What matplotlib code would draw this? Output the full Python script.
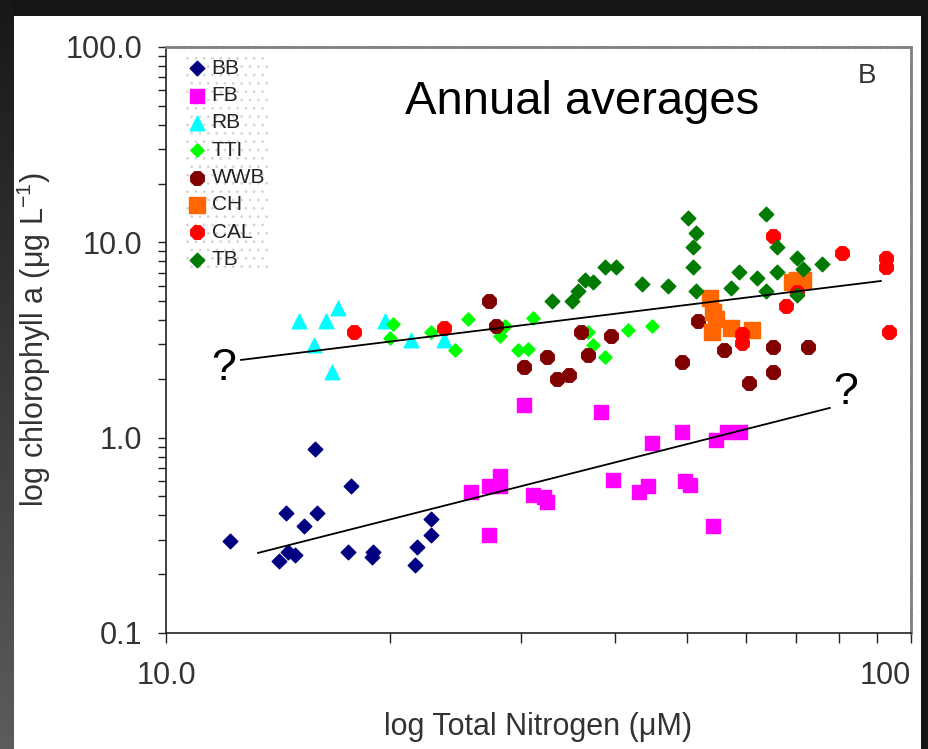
import numpy as np
import matplotlib
matplotlib.use("Agg")
import matplotlib.pyplot as plt
from matplotlib.patches import Rectangle

plt.rcParams['font.family'] = ['Liberation Sans', 'DejaVu Sans']
plt.rcParams['mathtext.fontset'] = 'custom'
plt.rcParams['mathtext.rm'] = 'Liberation Sans'
plt.rcParams['mathtext.default'] = 'regular'
plt.rcParams['hatch.linewidth'] = 0.8

# annual averages per site: total nitrogen (uM), chlorophyll a (ug/L)
bb_tn = [15.85, 17.7, 14.5, 15.95, 15.3, 12.2, 14.6, 14.9, 14.2, 17.55, 18.95, 18.9, 22.7, 22.7, 21.7, 21.6]
bb_chl = [0.876, 0.566, 0.412, 0.412, 0.353, 0.296, 0.26, 0.251, 0.234, 0.26, 0.26, 0.245, 0.383, 0.319, 0.276, 0.223]

fb_tn = [30.2, 38.4, 44.9, 49.2, 54.8, 56.6, 58.9, 28.1, 27.1, 25.7, 28.1, 31.1, 32.2, 32.5, 39.8, 43.2, 44.4, 49.7, 50.5, 27.1, 54.3]
fb_chl = [1.47, 1.35, 0.94, 1.07, 0.97, 1.07, 1.07, 0.64, 0.566, 0.53, 0.566, 0.509, 0.497, 0.471, 0.604, 0.53, 0.566, 0.60, 0.575, 0.319, 0.353]

rb_tn = [15.1, 16.4, 17.0, 15.8, 16.7, 19.7, 21.3, 23.6]
rb_chl = [3.94, 3.94, 4.61, 2.98, 2.16, 3.94, 3.15, 3.15]

tti_tn = [20.2, 20.0, 22.7, 24.4, 25.4, 28.1, 28.5, 31.1, 29.7, 30.6, 36.8, 37.4, 38.8, 41.7, 44.9]
tti_chl = [3.82, 3.24, 3.48, 2.80, 4.03, 3.30, 3.71, 4.10, 2.80, 2.85, 3.48, 2.98, 2.59, 3.56, 3.71]

wwb_tn = [27.1, 27.7, 36.1, 39.6, 36.8, 32.5, 30.2, 33.5, 34.8, 51.8, 49.2, 56.1, 60.6, 65.2, 65.2, 72.7]
wwb_chl = [5.01, 3.71, 3.48, 3.30, 2.65, 2.59, 2.30, 1.99, 2.09, 3.94, 2.44, 2.80, 1.91, 2.91, 2.16, 2.91]

ch_tn = [53.8, 54.3, 54.8, 54.1, 57.4, 61.1, 70.4, 69.2, 71.6]
ch_chl = [5.19, 4.40, 4.03, 3.48, 3.65, 3.56, 6.38, 6.23, 6.38]

cal_tn = [17.9, 23.6, 59.4, 59.4, 65.2, 68.0, 70.4, 80.8, 92.6, 92.6, 93.4]
cal_chl = [3.48, 3.65, 3.40, 3.07, 10.72, 4.72, 5.57, 8.83, 8.32, 7.44, 3.48]

tb_tn = [33.0, 35.1, 35.7, 36.5, 37.4, 38.8, 40.2, 43.5, 47.2, 50.2, 51.5, 50.9, 50.9, 51.5,
         63.8, 66.0, 70.4, 71.6, 66.0, 62.2, 58.8, 57.4, 63.8, 70.4, 75.9]
tb_chl = [5.01, 5.01, 5.64, 6.38, 6.23, 7.44, 7.44, 6.12, 5.98, 13.3, 11.17, 9.42, 7.44, 5.64,
          13.98, 9.42, 8.32, 7.27, 7.01, 6.57, 7.01, 5.87, 5.64, 5.38, 7.75]

# hand-drawn trend lines (end points)
upper_x = [12.61, 91.1]
upper_y = [2.50, 6.34]
lower_x = [13.29, 77.8]
lower_y = [0.257, 1.42]

fig = plt.figure(figsize=(9.29, 7.49), dpi=100, facecolor='#151515')

# white slide panel and dark gradient strip on the left
fig.patches.append(Rectangle((14 / 929, 0), (921 - 14) / 929, (749 - 16) / 749,
                             transform=fig.transFigure, facecolor='white',
                             edgecolor='none', zorder=-10))
gax = fig.add_axes([0, 0, 14 / 929, 1])
grad = np.linspace(0, 1, 256).reshape(-1, 1)
gax.imshow(grad, aspect='auto', cmap='gray', vmin=-0.35, vmax=3.4, extent=[0, 1, 0, 1])
gax.axis('off')

ax = fig.add_axes([166 / 929, (749 - 633) / 749, 745 / 929, 586 / 749])
ax.set_facecolor('white')

ax.scatter(bb_tn, bb_chl, marker='D', s=55, color='#000080', label='BB', zorder=3)
ax.scatter(fb_tn, fb_chl, marker='s', s=110, color='#ff00ff', label='FB', zorder=3)
ax.scatter(rb_tn, rb_chl, marker='^', s=110, color='#00ffff', label='RB', zorder=3)
ax.scatter(tti_tn, tti_chl, marker='D', s=45, color='#00ff00', label='TTI', zorder=3)
ax.scatter(wwb_tn, wwb_chl, marker='8', s=110, color='#800000', label='WWB', zorder=3)
ax.scatter(ch_tn, ch_chl, marker='s', s=120, color='#ff6600', label='CH', zorder=3)
ax.scatter(cal_tn, cal_chl, marker='8', s=110, color='#ff0000', label='CAL', zorder=3)
ax.scatter(tb_tn, tb_chl, marker='D', s=55, color='#007a00', label='TB', zorder=3)

ax.plot(upper_x, upper_y, color='black', lw=1.3, zorder=4)
ax.plot(lower_x, lower_y, color='black', lw=1.3, zorder=4)

ax.set_xscale('log')
ax.set_yscale('log')
ax.set_xlim(10, 100)
ax.set_ylim(0.1, 100)

ax.set_xticks([10, 100], ['10.0', '100'])
ax.set_xticks([20, 30, 40, 50, 60, 70, 80, 90], minor=True)
ax.set_yticks([0.1, 1, 10, 100], ['0.1', '1.0', '10.0', '100.0'])
ax.set_yticks([k * 10.0 ** e for e in (-1, 0, 1) for k in range(2, 10)], minor=True)
ax.xaxis.set_minor_formatter(plt.NullFormatter())
ax.yaxis.set_minor_formatter(plt.NullFormatter())

ax.tick_params(axis='both', which='both', direction='out', width=1, color='#222222',
               labelsize=22, labelcolor='#333333')
ax.tick_params(axis='x', which='both', length=7, pad=13)
ax.tick_params(axis='y', which='both', length=6, pad=11)
ax.get_xticklabels()[-1].set_horizontalalignment('right')

for side in ('left', 'bottom'):
    ax.spines[side].set_color('#222222')
    ax.spines[side].set_linewidth(1.2)
for side in ('top', 'right'):
    ax.spines[side].set_color('#808080')
    ax.spines[side].set_linewidth(2)
    ax.spines[side].set_linestyle((0, (1.5, 0.8)))

ax.set_xlabel('log Total Nitrogen (μM)', fontsize=22, color='#333333')
ax.set_ylabel('log chlorophyll a (μg L$^{-1}$)', fontsize=22, color='#333333')
ax.xaxis.set_label_coords(0.5, -0.135)
ax.yaxis.set_label_coords(-0.152, 0.5)

leg = ax.legend(loc='upper left', bbox_to_anchor=(0.011, 1.003), fontsize=15,
                labelspacing=0.4, handlelength=0.9, handletextpad=0.25,
                borderpad=0.15, frameon=True, fancybox=False, scatterpoints=1)
frame = leg.get_frame()
frame.set_facecolor('white')
frame.set_edgecolor('#d0d0d0')
frame.set_linewidth(0)
frame.set_hatch('..')
for t in leg.get_texts():
    t.set_color('#222222')

ax.text(0.3208, 0.8857, 'Annual averages', transform=ax.transAxes, fontsize=34,
        va='baseline', ha='left', color='black')
ax.text(0.929, 0.9386, 'B', transform=ax.transAxes, fontsize=20,
        va='baseline', ha='left', color='#333333')
ax.text(0.0779, 0.452, '?', transform=ax.transAxes, fontsize=32,
        va='center', ha='center', color='black')
ax.text(0.9128, 0.4096, '?', transform=ax.transAxes, fontsize=32,
        va='center', ha='center', color='black')

fig.savefig('out.png', dpi=100, facecolor=fig.get_facecolor())
